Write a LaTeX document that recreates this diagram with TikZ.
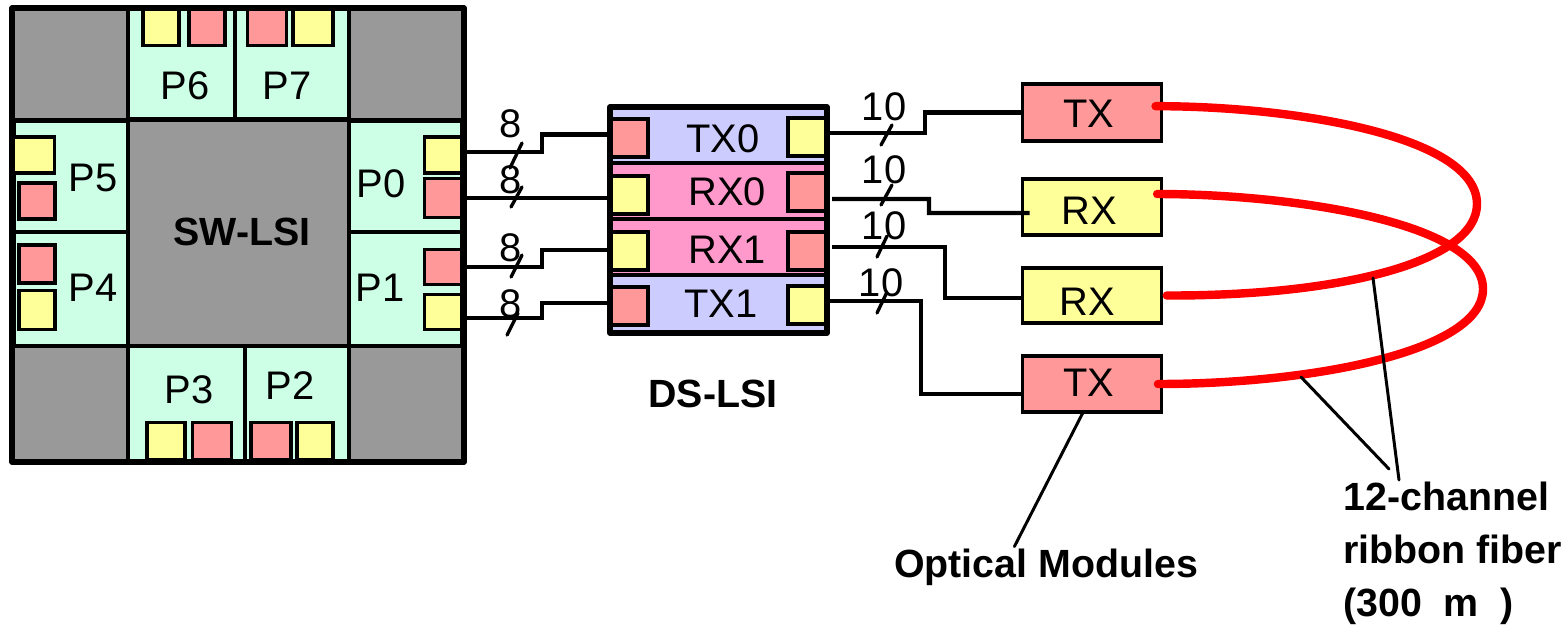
\documentclass[tikz,border=0pt]{standalone}
\usepackage{fontspec}
\setmainfont{Liberation Sans}
\usepackage{xcolor}
\usetikzlibrary{positioning,calc}
\definecolor{chipgray}{HTML}{999999}
\definecolor{portgreen}{HTML}{CCFFE6}
\definecolor{padred}{HTML}{FF9999}
\definecolor{padyellow}{HTML}{FFFF99}
\definecolor{bandtx}{HTML}{CCCCFF}
\definecolor{bandrx}{HTML}{FF99CC}
\definecolor{fiberred}{HTML}{FF0000}
\def\px{0.02cm}
\begin{document}
\begin{tikzpicture}[
  x=0.02cm, y=-0.02cm,
  outerline/.style={line width=3.2pt, draw=black, line join=round},
  portbox/.style={line width=2.1pt, draw=black, fill=portgreen},
  bandbox/.style={line width=2.1pt, draw=black},
  padred/.style={rectangle, draw=black, fill=padred, line width=2pt, inner sep=0pt, outer sep=0pt},
  padyellow/.style={rectangle, draw=black, fill=padyellow, line width=2pt, inner sep=0pt, outer sep=0pt},
  modbox/.style={rectangle, draw=black, line width=2pt, inner sep=0pt, outer sep=0pt, minimum width=139*\px, font=\fontsize{22.7}{27}\selectfont},
  biglabel/.style={inner sep=0pt, font=\fontsize{22.7}{27}\selectfont},
  boldlabel/.style={inner sep=0pt, font=\fontsize{22.4}{30}\selectfont\bfseries},
  wire/.style={line width=2.5pt, draw=black, line join=miter},
  tickmark/.style={line width=1.9pt, draw=black, line cap=round},
  fiber/.style={line width=4.8pt, draw=fiberred, line cap=round},
  leader/.style={line width=1.7pt, draw=black, line cap=round},
]
\useasboundingbox (0,0) rectangle (1568,626);
% SW-LSI body
\fill[chipgray] (12,8) rectangle (464,462);
\draw[line width=2.1pt] (12,120) -- (464,120);
\draw[line width=2.1pt] (12,346) -- (464,346);
% Ports round the crossbar
\foreach \xa/\ya/\xb/\yb in {%
  128/8/235/119,
  235/8/349/119,
  128/346/245/461,
  245/346/349/461,
  14/121/128/232,
  14/232/128/346,
  349/121/462/232,
  349/232/462/346%
} {
  \draw[portbox] (\xa,\ya) rectangle (\xb,\yb);
}
\foreach \nm/\cx/\cy/\txt in {%
  lblpsix/185/86/P6, lblpseven/287/86/P7, lblpfive/93/178/P5, lblpfour/93/288/P4,
  lblpzero/381/184/P0, lblpone/380/288/P1, lblpthree/189/390/P3, lblptwo/290/386/P2%
} {
  \node[biglabel] (\nm) at (\cx,\cy) {\txt};
}
\node[boldlabel] (lblsw) at (242,232) {SW-LSI};
% Link pads on the ports
\foreach \nm/\cx/\cy/\pw/\ph in {%
  p6y/161/27/36/37, p7y/313/27/40/37, p5y/34/155/41/36, p4y/37/310/36/39,
  p0y/443/155/37/36, p1y/443/312/37/35, p3y/166/441/38/37, p2y/315/441/36/37%
} {
  \node[padyellow, minimum width=\pw*\px, minimum height=\ph*\px] (\nm) at (\cx,\cy) {};
}
\foreach \nm/\cx/\cy/\pw/\ph in {%
  p6r/207/27/36/37, p7r/267/27/39/37, p5r/37/201/36/36, p4r/37/264/36/38,
  p0r/443/198/37/39, p1r/443/267/37/35, p3r/212/441/39/37, p2r/271/441/40/37%
} {
  \node[padred, minimum width=\pw*\px, minimum height=\ph*\px] (\nm) at (\cx,\cy) {};
}
\draw[outerline] (12,8) rectangle (464,462);
% DS-LSI bands
\fill[bandtx] (610,107) rectangle (827,163);
\fill[bandrx] (610,163) rectangle (827,275);
\fill[bandtx] (610,275) rectangle (827,333);
\draw[bandbox] (610,163) -- (827,163);
\draw[bandbox] (610,219) -- (827,219);
\draw[bandbox] (610,275) -- (827,275);
\foreach \nm/\cx/\cy/\txt in {%
  lbltxzero/723/139/TX0, lblrxzero/727/192/RX0, lblrxone/727/250/RX1, lbltxone/721/304/TX1%
} {
  \node[biglabel] (\nm) at (\cx,\cy) {\txt};
}
\foreach \nm/\cx/\cy in {dsrxzl/629/195, dsrxol/629/251, dstxzr/807/137, dstxor/807/305} {
  \node[padyellow, minimum width=38*\px, minimum height=38*\px] (\nm) at (\cx,\cy) {};
}
\foreach \nm/\cx/\cy in {dstxzl/629/138, dstxol/629/306, dsrxzr/807/192, dsrxor/807/251} {
  \node[padred, minimum width=38*\px, minimum height=38*\px] (\nm) at (\cx,\cy) {};
}
\draw[outerline] (610,107) rectangle (827,333);
\node[boldlabel] (lblds) at (713,394) {DS-LSI};
% Optical modules
\node[modbox, fill=padred,    minimum height=57*\px] (mtxzero) at (1092,112.5) {};
\node[modbox, fill=padyellow, minimum height=56*\px] (mrxzero) at (1092,207) {};
\node[modbox, fill=padyellow, minimum height=55*\px] (mrxone)  at (1092,295.5) {};
\node[modbox, fill=padred,    minimum height=56*\px] (mtxone)  at (1092,384) {};
\node[biglabel] (lblmtxzero) at (1089,114) {TX};
\node[biglabel] (lblmrxzero) at (1089,211) {RX};
\node[biglabel] (lblmrxone)  at (1087,302) {RX};
\node[biglabel] (lblmtxone)  at (1089,383) {TX};
% 8-bit links, SW-LSI to DS-LSI
\draw[wire] ([xshift=-1pt,yshift=1.7pt]p0y.east) -- ++(82,0) |- ([yshift=2pt]dstxzl.west);
\draw[wire] ([xshift=-1pt]p0r.east) -- (dsrxzl.west |- p0r.east);
\draw[wire] ([xshift=-1pt]p1r.east) -- ++(82,0) |- ([yshift=0.6pt]dsrxol.west);
\draw[wire] ([xshift=-1pt,yshift=-3.4pt]p1y.east) -- ++(82,0) |- ([yshift=1.7pt]dstxol.west);
% 10-bit links, DS-LSI to modules
\draw[wire] ([yshift=2.3pt]dstxzr.east) ++(1,0) -- ++(98,0) |- (mtxzero.west);
\draw[wire] (832,199) -- (929,199) -- (929,213) -- ([xshift=4pt,yshift=-3.4pt]mrxzero.west);
\draw[wire] (832,247) -- (945,247) |- ([yshift=-1.4pt]mrxone.west);
\draw[wire] ([yshift=2.3pt]dstxor.east) ++(1,0) -- ++(94,0) |- ([yshift=-5.6pt]mtxone.west);
% Bus width marks
\foreach \xa/\ya/\xb/\yb in {%
  522/143/510/168, 522/187/511/207, 522/255/511/277, 518/313/507/335,
  892/125/881/145, 892/185/881/205, 887/236/877/257, 887/292/877/313%
} {
  \draw[tickmark] (\xa,\ya) -- (\xb,\yb);
}
\foreach \nm/\cx/\cy/\txt in {%
  lbleighta/511/124/8, lbleightb/511/180/8, lbleightc/511/248/8, lbleightd/511/304/8,
  lbltena/884/107/10, lbltenb/884/170/10, lbltenc/884/226/10, lbltend/881/283/10%
} {
  \node[biglabel] (\nm) at (\cx,\cy) {\txt};
}
% Ribbon fibers
\draw[fiber] ([xshift=-3.4pt,yshift=3.6pt]mtxzero.east) .. controls (1290,106) and (1477,135) .. (1477,204)
  .. controls (1477,262) and (1340,296) .. ([xshift=3pt]mrxone.east);
\draw[fiber] ([xshift=-2.5pt,yshift=7.4pt]mrxzero.east) .. controls (1290,194) and (1483,222) .. (1483,289)
  .. controls (1483,352) and (1310,384) .. ([xshift=-2pt]mtxone.east);
% Callouts
\node[boldlabel, anchor=center] (lblmod) at (1046,567) {Optical Modules};
\node[boldlabel, anchor=north west, align=left] (lblfiber) at (1343,482) {12-channel\\ribbon fiber\\(300 \ m \ )};
\draw[leader] ([xshift=-5pt]mtxone.south) -- ([xshift=-18pt,yshift=1pt]lblmod.north);
\coordinate (fibera) at (1373,278);
\coordinate (fiberb) at (1301,377);
\coordinate (fibertip) at (1399,480);
\coordinate (fibertipb) at (1389,469);
\draw[leader] (fibera) -- (fibertip);
\draw[leader] (fiberb) -- (fibertipb);
\end{tikzpicture}
\end{document}
